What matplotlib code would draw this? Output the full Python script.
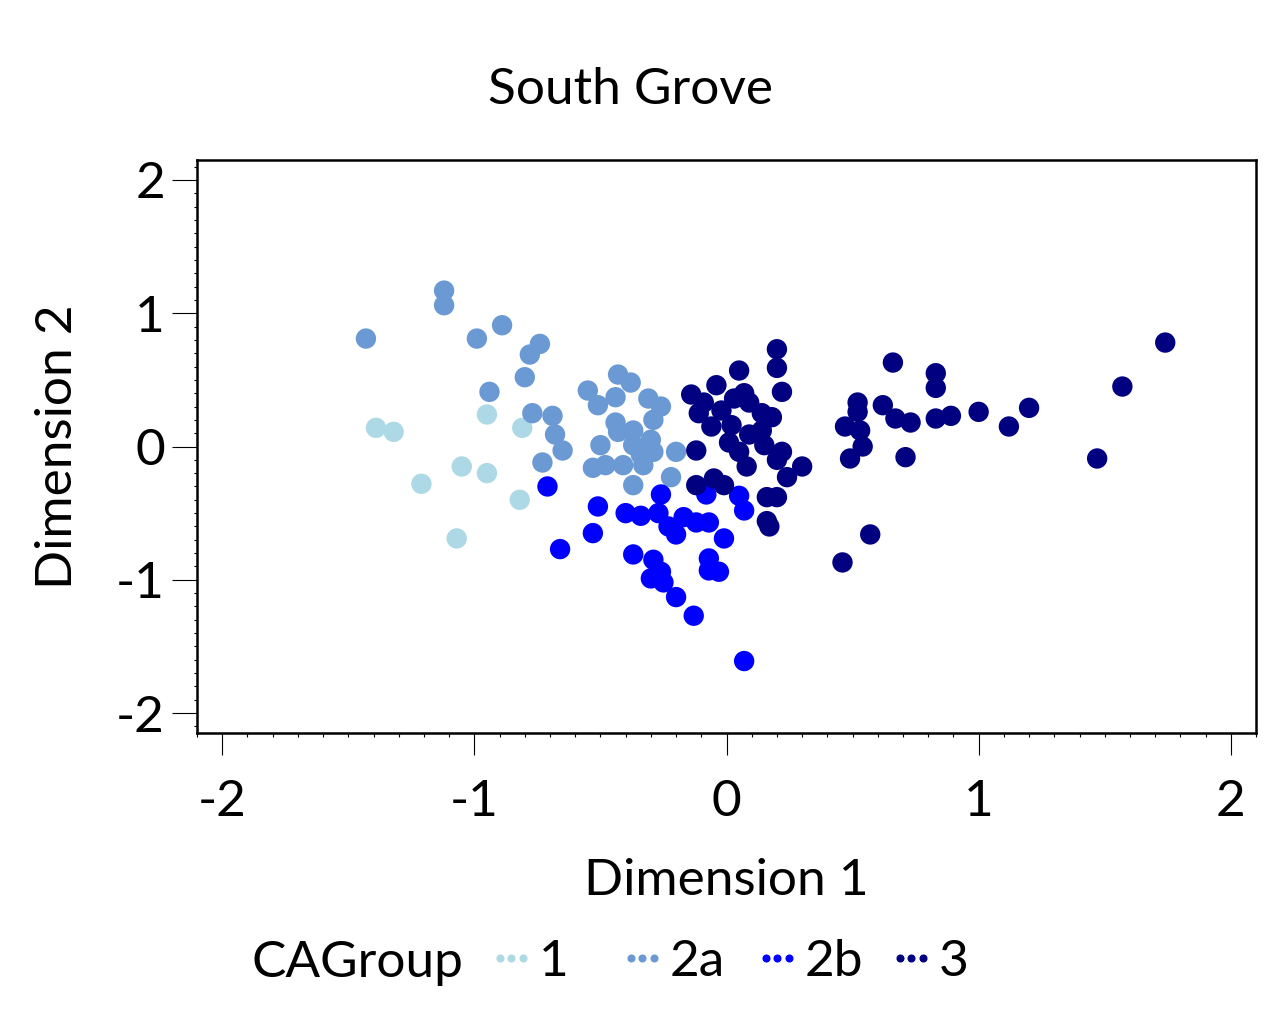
import matplotlib
matplotlib.use("Agg")
import matplotlib.pyplot as plt
from matplotlib.lines import Line2D
from matplotlib.ticker import MultipleLocator

plt.rcParams['font.family'] = ['Lato', 'DejaVu Sans']
plt.rcParams['axes.unicode_minus'] = False

title = "South Grove"
xlabel = "Dimension 1"
ylabel = "Dimension 2"
legend_title = "CAGroup"
groups = ["1", "2a", "2b", "3"]
colors = ["#ADD8E6", "#6A99D3", "#0000FF", "#000080"]
tick_vals = [-2, -1, 0, 1, 2]
tick_labels = ["-2", "-1", "0", "1", "2"]

g1_x = [-1.39, -1.32, -0.95, -0.81, -1.05, -0.95, -1.21, -0.82, -1.07]
g1_y = [0.14, 0.11, 0.24, 0.14, -0.15, -0.20, -0.28, -0.40, -0.69]

g2a_x = [-1.12, -1.12, -1.43, -0.99, -0.89, -0.74, -0.78, -0.80, -0.94, -0.77,
         -0.69, -0.68, -0.65, -0.73,
         -0.43, -0.38, -0.55, -0.44, -0.51, -0.31, -0.26, -0.29, -0.44, -0.43,
         -0.37, -0.30, -0.50, -0.37, -0.29, -0.20, -0.41, -0.33, -0.53, -0.48,
         -0.22, -0.37, -0.34]
g2a_y = [1.17, 1.06, 0.81, 0.81, 0.91, 0.77, 0.69, 0.52, 0.41, 0.25,
         0.23, 0.09, -0.03, -0.12,
         0.54, 0.48, 0.42, 0.37, 0.31, 0.36, 0.30, 0.20, 0.18, 0.11,
         0.12, 0.05, 0.01, 0.01, -0.04, -0.04, -0.14, -0.14, -0.16, -0.14,
         -0.23, -0.29, -0.06]

g2b_x = [-0.71, -0.51, -0.53, -0.66, -0.26, -0.08, -0.40, -0.34, -0.27, -0.23,
         -0.20, -0.17, -0.12, -0.07, -0.01, 0.05, 0.07, -0.37, -0.29, -0.26,
         -0.30, -0.25, -0.20, -0.13, -0.07, -0.07, -0.03, 0.07]
g2b_y = [-0.30, -0.45, -0.65, -0.77, -0.36, -0.36, -0.50, -0.52, -0.50, -0.60,
         -0.66, -0.53, -0.57, -0.57, -0.69, -0.37, -0.48, -0.81, -0.85, -0.94,
         -0.99, -1.02, -1.13, -1.27, -0.84, -0.93, -0.94, -1.61]

g3_x = [0.05, 0.20, 0.20, -0.04, -0.14, 0.22, 0.07, 0.09, 0.03, -0.09,
        -0.11, -0.02, 0.18, 0.14, -0.06, 0.02, 0.01, 0.09, 0.14, 0.05,
        0.15, 0.22, -0.12, 0.20, 0.08, 0.30, 0.24, -0.05, -0.01, -0.12,
        0.16, 0.20, 0.16, 0.17,
        0.66, 0.83, 0.83, 0.52, 0.52, 0.62, 0.67, 0.73, 0.83, 0.89,
        0.47, 0.53, 0.54, 0.49, 0.71, 0.57, 0.46, 1.00, 1.12, 1.20,
        1.57, 1.74, 1.47]
g3_y = [0.57, 0.59, 0.73, 0.46, 0.39, 0.41, 0.40, 0.33, 0.36, 0.33,
        0.25, 0.27, 0.22, 0.25, 0.15, 0.16, 0.03, 0.09, 0.12, -0.04,
        0.01, -0.04, -0.03, -0.10, -0.15, -0.15, -0.23, -0.24, -0.29, -0.29,
        -0.38, -0.38, -0.56, -0.60,
        0.63, 0.55, 0.44, 0.33, 0.26, 0.31, 0.21, 0.18, 0.21, 0.23,
        0.15, 0.12, 0.00, -0.09, -0.08, -0.66, -0.87, 0.26, 0.15, 0.29,
        0.45, 0.78, -0.09]

xs = [g1_x, g2a_x, g2b_x, g3_x]
ys = [g1_y, g2a_y, g2b_y, g3_y]

W, H = 1288, 1014
fig = plt.figure(figsize=(W / 100, H / 100), dpi=100)
ax = fig.add_axes([197 / W, 1 - 733 / H, (1256 - 197) / W, (733 - 160) / H])

for gx, gy, c in zip(xs, ys, colors):
    ax.scatter(gx, gy, s=215, color=c, edgecolors='none', zorder=3)

ax.set_xlim(-2.1, 2.1)
ax.set_ylim(-2.15, 2.15)
ax.set_xticks(tick_vals)
ax.set_xticklabels(tick_labels)
ax.set_yticks(tick_vals)
ax.set_yticklabels(tick_labels)
ax.xaxis.set_minor_locator(MultipleLocator(0.1))
ax.yaxis.set_minor_locator(MultipleLocator(0.1))

fs = 37
ax.tick_params(axis='x', which='major', direction='out', length=16, width=0.8,
               pad=17, labelsize=fs, colors='black')
ax.tick_params(axis='x', which='minor', direction='out', length=3, width=0.8)
ax.tick_params(axis='y', which='major', direction='out', length=18, width=0.8,
               pad=5, labelsize=fs, colors='black')
ax.tick_params(axis='y', which='minor', direction='out', length=2, width=0.8)
for sp in ax.spines.values():
    sp.set_linewidth(1.8)

fig.text(630 / W, 1 - 104 / H, title, ha='center', va='baseline', fontsize=fs)
fig.text(726 / W, 1 - 895 / H, xlabel, ha='center', va='baseline', fontsize=fs)
fig.text(58 / W, 1 - 446.5 / H, ylabel, ha='center', va='center',
         rotation=90, fontsize=fs)
fig.text(252 / W, 1 - 977 / H, legend_title, ha='left', va='baseline', fontsize=fs)

entry_x = [485, 616, 751, 885]
for lab, c, ex in zip(groups, colors, entry_x):
    h = Line2D([], [], marker='o', linestyle='none', markersize=4.8,
               markerfacecolor=c, markeredgecolor=c)
    fig.legend(handles=[h], labels=[lab], loc='center left',
               bbox_to_anchor=(ex / W, 1 - 962 / H), frameon=False,
               numpoints=3, handlelength=1.03, handletextpad=0.02,
               borderpad=0, borderaxespad=0, fontsize=fs)

fig.savefig("out.png", dpi=100, facecolor='white')
